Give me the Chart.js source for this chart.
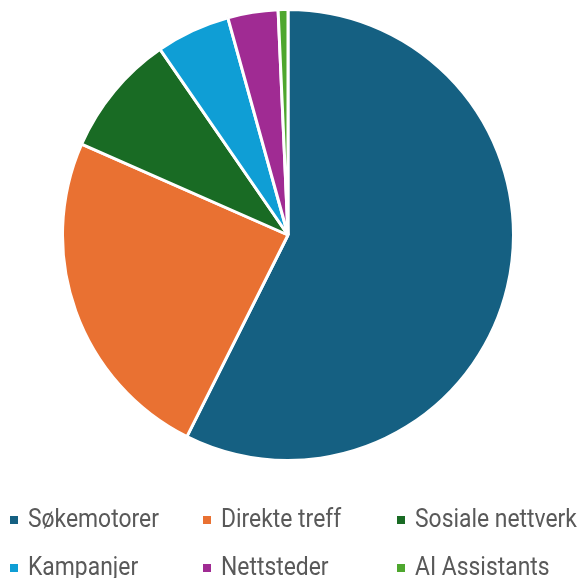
<!DOCTYPE html>
<html><head><meta charset="utf-8">
<script src="https://cdn.jsdelivr.net/npm/chart.js@4"></script>
<style>
html,body{margin:0;padding:0;background:#fff;width:582px;height:578px;overflow:hidden;}
#wrap{position:absolute;left:61px;top:8px;width:454px;height:454px;}
#legend{position:absolute;left:0;top:0;width:582px;height:578px;pointer-events:none;}
.li{position:absolute;font-family:"Roboto",sans-serif;font-size:25px;color:#595959;line-height:30px;white-space:nowrap;transform:scaleX(0.915);transform-origin:0 0;}
.sw{position:absolute;width:8px;height:8px;}
</style></head><body>
<div id="wrap"><canvas id="c"></canvas></div>
<div id="legend"></div>
<script>
const categories = ["Søkemotorer","Direkte treff","Sosiale nettverk","Kampanjer","Nettsteder","AI Assistants"];
const values = [57.4, 24.2, 8.8, 5.3, 3.6, 0.7];
const colors = ["#156082","#E97132","#196B24","#0F9ED5","#A02B93","#4EA72E"];

const chart = new Chart(document.getElementById('c'), {
  type: 'pie',
  data: { labels: categories, datasets: [{ data: values, backgroundColor: colors, borderColor: '#ffffff', borderWidth: 3 }] },
  options: {
    responsive: true, maintainAspectRatio: false, animation: false,
    layout: { padding: 0 },
    plugins: { legend: { display: false }, tooltip: { enabled: false } }
  }
});

// grid legend built from the chart's data
const colX = [10, 203, 397];
const rowY = [516, 564];
const leg = document.getElementById('legend');
chart.data.labels.forEach((lab, i) => {
  const col = i % 3, row = Math.floor(i / 3);
  const sw = document.createElement('div');
  sw.className = 'sw';
  sw.style.left = colX[col] + 'px'; sw.style.top = rowY[row] + 'px';
  sw.style.background = chart.data.datasets[0].backgroundColor[i];
  leg.appendChild(sw);
  const t = document.createElement('div');
  t.className = 'li';
  t.textContent = lab;
  t.style.left = (colX[col] + 18) + 'px'; t.style.top = (rowY[row] - 12.5) + 'px';
  leg.appendChild(t);
});
</script>
</body></html>
